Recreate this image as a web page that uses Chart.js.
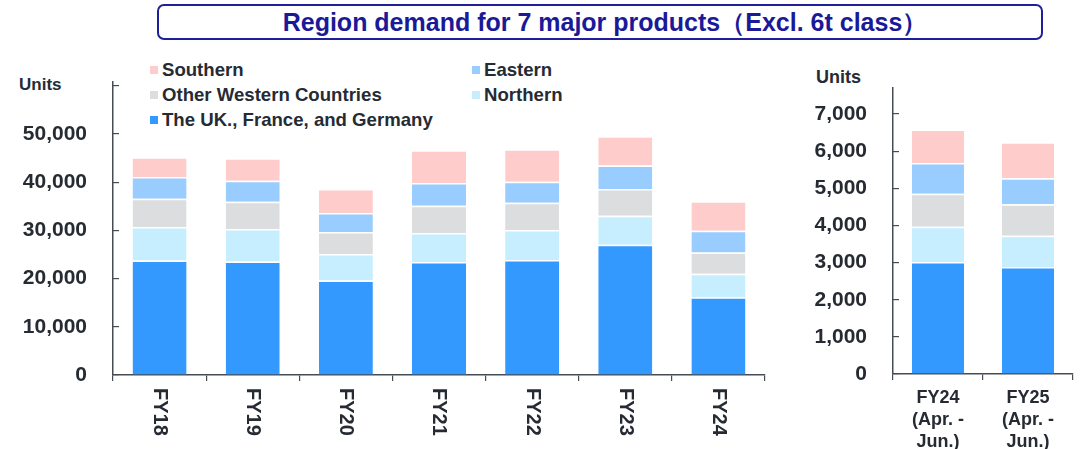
<!DOCTYPE html>
<html>
<head>
<meta charset="utf-8">
<script src="https://cdn.jsdelivr.net/npm/chart.js@4.4.1/dist/chart.umd.min.js"></script>
<style>
  body { margin: 0; background: #fff; font-family: "Liberation Sans", Arial, sans-serif; }
  #wrap { position: relative; width: 1082px; height: 449px; overflow: hidden; }
  .title-box {
    position: absolute; left: 157px; top: 4px; width: 872px; height: 32px; padding-left: 10px;
    border: 2px solid #1f1f9c; border-radius: 7px;
    color: #1a1a99; font-weight: bold; font-size: 25px; line-height: 32px; text-align: center;
  }
  .units { position: absolute; font-weight: bold; font-size: 17px; color: #262b33; line-height: 20px; }
  .legend-item { position: absolute; font-weight: bold; font-size: 18.6px; color: #262b33; line-height: 20px; white-space: nowrap; }
  .legend-item span { display: inline-block; width: 8px; height: 8px; margin-right: 4px; vertical-align: 2px; }
  canvas { position: absolute; top: 0; }
</style>
</head>
<body>
<div id="wrap">
  <div class="title-box">Region demand for 7 major products（Excl. 6t class）</div>
  <div class="units" style="left:19px; top:75px;">Units</div>
  <div class="units" style="left:816px; top:67px; font-size:18px;">Units</div>
  <div id="legend"></div>
  <canvas id="annual" width="790" height="449" style="left:0"></canvas>
  <canvas id="quarter" width="292" height="449" style="left:790px"></canvas>
</div>

<script>
// ── annual data (units) ──
const years = ['FY18', 'FY19', 'FY20', 'FY21', 'FY22', 'FY23', 'FY24'];
const ukFraGer     = [23760, 23560, 19610, 23430, 23850, 27030, 16150];
const northern     = [6940, 6730, 5480, 6030, 6230, 6030, 4850];
const otherWestern = [5890, 5680, 4570, 5670, 5680, 5550, 4430];
const eastern      = [4510, 4360, 3960, 4720, 4360, 4840, 4510];
const southern     = [4080, 4640, 4990, 6780, 6720, 6090, 6090];
const annualTicks  = [0, 10000, 20000, 30000, 40000, 50000, 60000];

// ── Apr-Jun data (units) ──
const quarters = [['FY24', '(Apr. -', 'Jun.)'], ['FY25', '(Apr. -', 'Jun.)']];
const qUkFraGer     = [3015, 2880];
const qNorthern     = [951, 845];
const qOtherWestern = [889, 843];
const qEastern      = [825, 702];
const qSouthern     = [900, 970];
const quarterTicks  = [0, 1000, 2000, 3000, 4000, 5000, 6000, 7000];

const seriesNames = ['The UK., France, and Germany', 'Northern', 'Other Western Countries', 'Eastern', 'Southern'];
const colors = ['#3399ff', '#c6eeff', '#dcdddf', '#99ccff', '#ffcccc'];

const textColor = '#262b33';
const axisColor = '#474c54';
Chart.defaults.font.family = '"Liberation Sans", Arial, sans-serif';
Chart.defaults.color = textColor;

// legend (two columns, same order as the original)
const legendSpots = [
  { i: 4, x: 150, y: 60 },
  { i: 3, x: 472, y: 60 },
  { i: 2, x: 150, y: 85 },
  { i: 1, x: 472, y: 85 },
  { i: 0, x: 150, y: 110 },
];
document.getElementById('legend').innerHTML = legendSpots.map(s =>
  `<div class="legend-item" style="left:${s.x}px; top:${s.y}px"><span style="background:${colors[s.i]}"></span>${seriesNames[s.i]}</div>`
).join('');

function makeSets(lists, barPct) {
  return lists.map((data, i) => ({
    label: seriesNames[i],
    data,
    backgroundColor: colors[i],
    borderColor: '#ffffff',
    borderWidth: { top: 1.5, left: 0, right: 0, bottom: 0 },
    borderSkipped: false,
    categoryPercentage: 1,
    barPercentage: barPct,
  }));
}

// vertical x labels, reading top to bottom
const verticalLabels = {
  id: 'verticalLabels',
  afterDraw(chart) {
    const x = chart.scales.x;
    const ctx = chart.ctx;
    ctx.save();
    ctx.font = 'bold 20px "Liberation Sans", Arial, sans-serif';
    ctx.fillStyle = textColor;
    ctx.textAlign = 'left';
    ctx.textBaseline = 'middle';
    chart.data.labels.forEach((lab, i) => {
      ctx.save();
      ctx.translate(x.getPixelForTick(i), x.top + 13);
      ctx.rotate(Math.PI / 2);
      ctx.fillText(lab, 0, 0);
      ctx.restore();
    });
    ctx.restore();
  },
};

// the axis runs a bit past the last tick; ticks above `labelTop` keep their mark, no label
function yAxis(max, tickValues, labelTop, width) {
  return {
    stacked: true,
    min: 0,
    max,
    afterFit: s => { s.width = width; },
    afterBuildTicks: s => { s.ticks = tickValues.map(v => ({ value: v })); },
    ticks: {
      autoSkip: false,
      padding: 32,
      font: { size: 21, weight: 'bold' },
      callback: v => (v <= labelTop ? v.toLocaleString('en-US') : ''),
    },
    grid: { drawOnChartArea: false, drawTicks: true, tickLength: -6, lineWidth: 1.2, color: axisColor },
    border: { display: true, color: axisColor, width: 1.5 },
  };
}

new Chart(document.getElementById('annual'), {
  type: 'bar',
  data: {
    labels: years,
    datasets: makeSets([ukFraGer, northern, otherWestern, eastern, southern], 0.58),
  },
  options: {
    responsive: false,
    animation: false,
    devicePixelRatio: 1,
    layout: { padding: { left: 0, top: 82, right: 25, bottom: 0 } },
    plugins: { legend: { display: false }, tooltip: { enabled: false } },
    scales: {
      x: {
        stacked: true,
        afterFit: s => { s.height = 74; },
        ticks: { display: false },
        grid: { drawOnChartArea: false, drawTicks: true, tickLength: 6, color: axisColor, lineWidth: 1.2 },
        border: { display: true, color: axisColor, width: 1.5 },
      },
      y: yAxis(60800, annualTicks, 50000, 113),
    },
  },
  plugins: [verticalLabels],
});

new Chart(document.getElementById('quarter'), {
  type: 'bar',
  data: {
    labels: quarters,
    datasets: makeSets([qUkFraGer, qNorthern, qOtherWestern, qEastern, qSouthern], 0.58),
  },
  options: {
    responsive: false,
    animation: false,
    devicePixelRatio: 1,
    layout: { padding: { left: 0, top: 88, right: 9, bottom: 0 } },
    plugins: { legend: { display: false }, tooltip: { enabled: false } },
    scales: {
      x: {
        stacked: true,
        afterFit: s => { s.height = 75; },
        ticks: { padding: 7, font: { size: 18, weight: 'bold', lineHeight: '22px' }, maxRotation: 0 },
        grid: { drawOnChartArea: false, drawTicks: true, tickLength: 6, color: axisColor, lineWidth: 1.2 },
        border: { display: true, color: axisColor, width: 1.5 },
      },
      y: yAxis(7700, quarterTicks, 7000, 103),
    },
  },
});
</script>
</body>
</html>
